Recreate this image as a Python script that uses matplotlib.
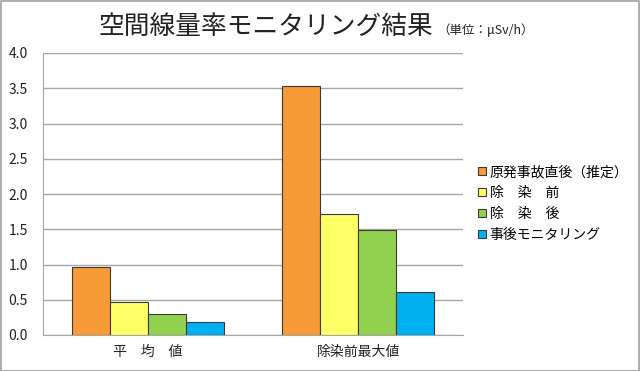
import matplotlib
matplotlib.use("Agg")
import matplotlib.pyplot as plt
import numpy as np
from matplotlib.patches import Rectangle

plt.rcParams['font.family'] = ['Noto Sans CJK JP', 'DejaVu Sans']

categories = ['平　均　値', '除染前最大値']
series_names = ['原発事故直後（推定）', '除　染　前', '除　染　後', '事後モニタリング']
values = [
    [0.96, 3.53],
    [0.47, 1.72],
    [0.30, 1.49],
    [0.18, 0.61],
]
colors = ['#F89A36', '#FFFF66', '#92D050', '#00B0F0']
yticks = [0.0, 0.5, 1.0, 1.5, 2.0, 2.5, 3.0, 3.5, 4.0]

fig = plt.figure(figsize=(6.4, 3.71), dpi=100)
W, H = 640, 371
ax = fig.add_axes([43 / W, 1 - 335 / H, 420 / W, 282 / H])

x = np.arange(len(categories))
bw = 0.182
for i, (name, vals, c) in enumerate(zip(series_names, values, colors)):
    ax.bar(x + (i - 1.5) * bw, vals, width=bw, color=c, edgecolor='#3a3a3a',
           linewidth=0.8, label=name, zorder=3)

ax.set_xlim(-0.5, 1.5)
ax.set_ylim(0, 4.0)
ax.set_yticks(yticks)
ax.set_yticklabels([f'{v:.1f}' for v in yticks], fontsize=10, color='#222222')
ax.set_xticks(x)
ax.set_xticklabels(categories, fontsize=10, color='#222222')
ax.tick_params(axis='both', length=0)
ax.tick_params(axis='y', pad=11)
ax.tick_params(axis='x', pad=7)
ax.grid(axis='y', color='#a6a6a6', linewidth=1.0, zorder=0)
for s in ['top', 'right']:
    ax.spines[s].set_visible(False)
ax.spines['left'].set_color('#a6a6a6')
ax.spines['bottom'].set_color('#a6a6a6')

leg = fig.legend(loc='upper left', bbox_to_anchor=(478 / W, 1 - 165 / H),
                 frameon=False, fontsize=10, handlelength=0.55, handleheight=0.55,
                 handletextpad=0.3, labelspacing=0.5, borderaxespad=0, borderpad=0)

fig.text(433 / W, 1 - 34 / H, '空間線量率モニタリング結果', ha='right', va='baseline',
         fontsize=18.5, color='#222222')
fig.text(437 / W, 1 - 34 / H, '（単位：μSv/h）', ha='left', va='baseline',
         fontsize=9, color='#222222')

fig.patches.append(Rectangle((0.5 / W, 0.5 / H), 1 - 1.5 / W, 1 - 1.5 / H,
                             transform=fig.transFigure, fill=False,
                             edgecolor='#a0a0a0', linewidth=1.2))

fig.savefig('out.png', dpi=100)
